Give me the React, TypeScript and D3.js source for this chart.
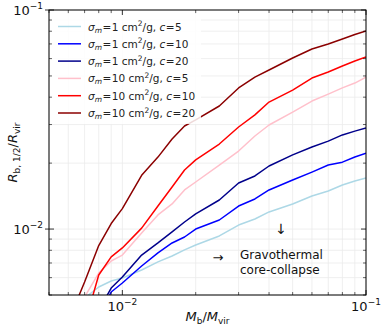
import React from 'react';
import * as d3 from 'd3';

// mass ratio samples (x) shared by all runs
const massRatio = [0.007, 0.008, 0.009, 0.010, 0.012, 0.014, 0.016, 0.018, 0.020, 0.025, 0.030, 0.035, 0.040, 0.050, 0.060, 0.070, 0.080, 0.090, 0.100];

// each series: first point is where the curve leaves the bottom of the frame
const sig1c5 = { start: [0.0071, 0.0049], y: [null, 0.00544, 0.00579, 0.00598, 0.0065, 0.00708, 0.00753, 0.00803, 0.00846, 0.0093, 0.01043, 0.01111, 0.01197, 0.01302, 0.01416, 0.01492, 0.01589, 0.01658, 0.0171] };
const sig1c10 = { start: [0.0087, 0.0048], y: [null, null, 0.00516, 0.00567, 0.00678, 0.00778, 0.00864, 0.0092, 0.0100, 0.0110, 0.01274, 0.01372, 0.01508, 0.01675, 0.0182, 0.0196, 0.0202, 0.02133, 0.0222] };
const sig1c20 = { start: [0.0085, 0.0048], y: [null, null, 0.00538, 0.00604, 0.00761, 0.00864, 0.0097, 0.01077, 0.01172, 0.01357, 0.01623, 0.01747, 0.0194, 0.0218, 0.0237, 0.0252, 0.0269, 0.0280, 0.0289] };
const sig10c5 = { start: [0.0070, 0.0049], y: [null, 0.0063, 0.00715, 0.00761, 0.0096, 0.0116, 0.01302, 0.01508, 0.0164, 0.0196, 0.0227, 0.0266, 0.02985, 0.0342, 0.0384, 0.0413, 0.0441, 0.0464, 0.0494] };
const sig10c10 = { start: [0.0075, 0.0048], y: [null, 0.00617, 0.00746, 0.0082, 0.0101, 0.01274, 0.01556, 0.0186, 0.0207, 0.02444, 0.02923, 0.0332, 0.0380, 0.0431, 0.0489, 0.0521, 0.0555, 0.0585, 0.0610] };
const sig10c20 = { start: [0.0065, 0.0047], y: [0.00573, 0.00841, 0.0106, 0.0124, 0.0176, 0.0213, 0.02577, 0.02954, 0.0315, 0.03646, 0.04405, 0.04942, 0.0532, 0.0604, 0.0664, 0.0700, 0.0737, 0.0773, 0.0802] };

const runs = [
  { sigma: '1', c: '5', color: '#add8e6', d: sig1c5 },
  { sigma: '1', c: '10', color: '#0000ff', d: sig1c10 },
  { sigma: '1', c: '20', color: '#00008b', d: sig1c20 },
  { sigma: '10', c: '5', color: '#ffc0cb', d: sig10c5 },
  { sigma: '10', c: '10', color: '#ff0000', d: sig10c10 },
  { sigma: '10', c: '20', color: '#8b0000', d: sig10c20 },
];

const majorTicks = [0.01, 0.1];
const majorLabels = ['−2', '−1'];
const xMinor = [0.005, 0.006, 0.007, 0.008, 0.009, 0.02, 0.03, 0.04, 0.05, 0.06, 0.07, 0.08, 0.09];
const yMinor = [0.005, 0.006, 0.007, 0.008, 0.009, 0.02, 0.03, 0.04, 0.05, 0.06, 0.07, 0.08, 0.09];

const W = 382, H = 328;
const margin = { top: 10, right: 16, bottom: 33, left: 49 };
const font = 'DejaVu Sans, sans-serif';

const App = () => {
  const x = d3.scaleLog().domain([0.005, 0.1]).range([margin.left, W - margin.right]);
  const y = d3.scaleLog().domain([0.005, 0.1]).range([H - margin.bottom, margin.top]);
  const x0 = margin.left, x1 = W - margin.right, y0 = H - margin.bottom, y1 = margin.top;

  const line = d3.line<[number, number]>().x(d => x(d[0])).y(d => y(d[1]));

  const pts = (d: any): [number, number][] => {
    const out: [number, number][] = [[d.start[0], d.start[1]]];
    massRatio.forEach((m, i) => { if (d.y[i] != null) out.push([m, d.y[i]]); });
    return out;
  };

  const grid = '#ebebeb';

  return (
    <svg width={W} height={H} style={{ position: 'absolute', left: 0, top: 0 }} fontFamily={font}>
      <defs>
        <clipPath id="plot"><rect x={x0} y={y1} width={x1 - x0} height={y0 - y1} /></clipPath>
      </defs>
      <rect width={W} height={H} fill="white" />

      {/* grid */}
      {[...xMinor, ...majorTicks].map((t, i) => (
        <line key={'gx' + i} x1={x(t)} x2={x(t)} y1={y1} y2={y0} stroke={grid} strokeWidth={0.8} />
      ))}
      {[...yMinor, ...majorTicks].map((t, i) => (
        <line key={'gy' + i} x1={x0} x2={x1} y1={y(t)} y2={y(t)} stroke={grid} strokeWidth={0.8} />
      ))}

      {/* curves */}
      <g clipPath="url(#plot)">
        {runs.map((r, i) => (
          <path key={i} d={line(pts(r.d)) || ''} fill="none" stroke={r.color} strokeWidth={1.5} strokeLinejoin="round" />
        ))}
      </g>

      {/* legend */}
      <rect x={x0 + 2} y={y1 + 4} width={150} height={110} fill="white" opacity={0.85} />
      {runs.map((r, i) => {
        const ly = 26.5 + i * 17.3;
        return (
          <g key={'lg' + i}>
            <line x1={58} x2={81} y1={ly} y2={ly} stroke={r.color} strokeWidth={1.5} />
            <text x={88} y={ly + 4} fontSize={10.5} fill="#222">
              <tspan fontStyle="italic">σ</tspan>
              <tspan fontStyle="italic" fontSize={7.5} dy={2}>m</tspan>
              <tspan dy={-2} dx={0.5}>=</tspan>
              <tspan dx={0.5}>{`${r.sigma} cm`}</tspan>
              <tspan fontSize={7.5} dy={-4.5}>2</tspan>
              <tspan dy={4.5}>/g, </tspan>
              <tspan fontStyle="italic">c</tspan>
              <tspan dx={0.5}>=</tspan>
              <tspan dx={0.5}>{r.c}</tspan>
            </text>
          </g>
        );
      })}

      {/* annotations */}
      <text x={281} y={234} fontSize={14} textAnchor="middle" fill="#111">↓</text>
      <text x={218} y={262} fontSize={13} textAnchor="middle" fill="#111">→</text>
      <text x={240} y={259} fontSize={12} fill="#111">Gravothermal</text>
      <text x={240} y={274} fontSize={12} fill="#111">core-collapse</text>

      {/* ticks */}
      {majorTicks.map((t, i) => (
        <g key={'mt' + i}>
          <line x1={x(t)} x2={x(t)} y1={y0} y2={y0 - 5} stroke="#000" strokeWidth={0.8} />
          <line x1={x(t)} x2={x(t)} y1={y1} y2={y1 + 5} stroke="#000" strokeWidth={0.8} />
          <line x1={x0} x2={x0 + 5} y1={y(t)} y2={y(t)} stroke="#000" strokeWidth={0.8} />
          <line x1={x1} x2={x1 - 5} y1={y(t)} y2={y(t)} stroke="#000" strokeWidth={0.8} />
          <line x1={x0} x2={x0 - 4} y1={y(t)} y2={y(t)} stroke="#000" strokeWidth={0.8} />
        </g>
      ))}
      {xMinor.map((t, i) => (
        <g key={'xm' + i}>
          <line x1={x(t)} x2={x(t)} y1={y0} y2={y0 - 3} stroke="#000" strokeWidth={0.6} />
          <line x1={x(t)} x2={x(t)} y1={y1} y2={y1 + 3} stroke="#000" strokeWidth={0.6} />
        </g>
      ))}
      {yMinor.map((t, i) => (
        <g key={'ym' + i}>
          <line x1={x0} x2={x0 + 3} y1={y(t)} y2={y(t)} stroke="#000" strokeWidth={0.6} />
          <line x1={x1} x2={x1 - 3} y1={y(t)} y2={y(t)} stroke="#000" strokeWidth={0.6} />
        </g>
      ))}

      {/* frame */}
      <rect x={x0} y={y1} width={x1 - x0} height={y0 - y1} fill="none" stroke="#000" strokeWidth={1} />

      {/* tick labels */}
      {majorTicks.map((t, i) => (
        <text key={'xl' + i} x={x(t)} y={y0 + 16} fontSize={13} textAnchor="middle" fill="#111">
          10<tspan fontSize={9} dy={-6}>{majorLabels[i]}</tspan>
        </text>
      ))}
      {majorTicks.map((t, i) => (
        <text key={'yl' + i} x={x0 - 6} y={y(t) + 5} fontSize={13} textAnchor="end" fill="#111">
          10<tspan fontSize={9} dy={-6}>{majorLabels[i]}</tspan>
        </text>
      ))}

      {/* axis labels */}
      <text x={(x0 + x1) / 2} y={321} fontSize={13} textAnchor="middle" fill="#111">
        <tspan fontStyle="italic">M</tspan>
        <tspan fontSize={9} dy={3}>b</tspan>
        <tspan dy={-3}>/</tspan>
        <tspan fontStyle="italic">M</tspan>
        <tspan fontSize={9} dy={3}>vir</tspan>
      </text>
      <text transform={`translate(17, ${(y0 + y1) / 2}) rotate(-90)`} fontSize={13} textAnchor="middle" fill="#111">
        <tspan fontStyle="italic">R</tspan>
        <tspan fontSize={9} dy={3}>b, 1/2</tspan>
        <tspan dy={-3}>/</tspan>
        <tspan fontStyle="italic">R</tspan>
        <tspan fontSize={9} dy={3}>vir</tspan>
      </text>
    </svg>
  );
};

export default App;
